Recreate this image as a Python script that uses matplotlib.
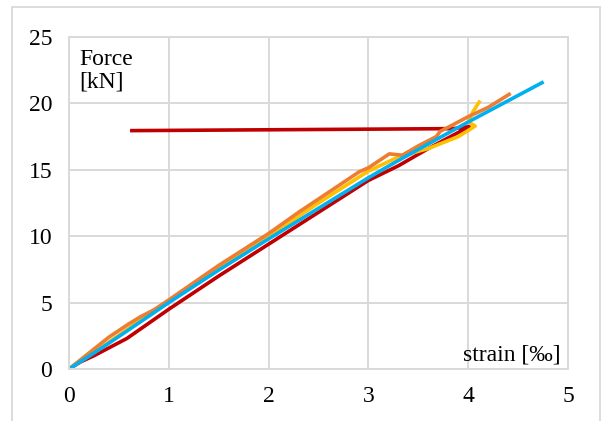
import matplotlib
matplotlib.use("Agg")
import matplotlib.pyplot as plt
from matplotlib.patches import Rectangle

# strain [permille] / force [kN] for the four specimens
cyan_x = [0, 0.25, 0.5, 1.0, 1.5, 2.0, 2.5, 3.0, 3.3, 3.71, 4.0, 4.4, 4.74]
cyan_y = [0, 1.2, 2.45, 5.0, 7.45, 9.8, 12.1, 14.4, 15.7, 17.4, 18.6, 20.2, 21.56]

orange_x = [0, 0.2, 0.4, 0.6, 0.72, 0.85, 1.0, 1.5, 2.0, 2.31, 2.6, 2.91, 3.0, 3.21, 3.34,
            3.5, 3.68, 3.72, 3.85, 4.0, 4.2, 4.41]
orange_y = [0, 1.2, 2.4, 3.4, 3.95, 4.45, 5.2, 7.8, 10.2, 11.85, 13.3, 14.86, 15.15, 16.2, 16.1,
            16.8, 17.5, 17.9, 18.4, 19.0, 19.7, 20.68]

yellow_x = [0, 0.3, 0.7, 1.0, 1.5, 2.0, 2.5, 3.0, 3.31, 3.6, 3.9, 4.02, 4.07, 4.0, 4.05, 4.11]
yellow_y = [0, 1.5, 3.6, 5.1, 7.6, 10.0, 12.5, 14.9, 16.0, 16.6, 17.5, 18.05, 18.3, 18.6, 19.4, 20.1]

red_x = [0, 0.12, 0.25, 0.58, 1.0, 1.5, 2.0, 2.5, 3.0, 3.3, 3.6, 4.01, 3.85, 0.63]
red_y = [0, 0.55, 1.0, 2.3, 4.5, 7.0, 9.4, 11.8, 14.2, 15.3, 16.6, 18.25, 18.1, 17.95]

x_ticks = [0, 1, 2, 3, 4, 5]
y_ticks = [0, 5, 10, 15, 20, 25]

grid_col = '#D9D9D9'
serif = 'Liberation Serif'

fig = plt.figure(figsize=(6.05, 4.21), dpi=100)
fig.patches.append(Rectangle((12 / 605, -0.05), 588 / 605, (421 - 7) / 421 + 0.05,
                             transform=fig.transFigure, fill=False,
                             edgecolor=grid_col, linewidth=1.3))

ax = fig.add_axes([69 / 605, 52 / 421, 499 / 605, 332 / 421])

ax.plot(red_x, red_y, color='#C00000', linewidth=2.6, solid_joinstyle='round')
ax.plot(yellow_x, yellow_y, color='#FFC000', linewidth=2.6, solid_joinstyle='round')
ax.plot(orange_x, orange_y, color='#ED7D31', linewidth=2.6, solid_joinstyle='round')
ax.plot(cyan_x, cyan_y, color='#00B0F0', linewidth=2.6, solid_joinstyle='round')

ax.set_xlim(0, 5)
ax.set_ylim(0, 25)
ax.set_xticks(x_ticks)
ax.set_yticks(y_ticks)
ax.grid(True, color=grid_col, linewidth=1.4)
ax.set_axisbelow(True)
for s in ax.spines.values():
    s.set_color(grid_col)
    s.set_linewidth(1.4)
ax.tick_params(axis='x', length=0, pad=12, labelsize=17)
ax.tick_params(axis='y', length=0, pad=12, labelsize=17)
for lab in ax.get_xticklabels() + ax.get_yticklabels():
    lab.set_fontfamily(serif)

ax.text(0.02, 0.965, 'Force\n[kN]', transform=ax.transAxes, ha='left', va='top',
        fontsize=17, family=serif, linespacing=1.1)
ax.text(0.985, 0.012, 'strain [‰]', transform=ax.transAxes, ha='right', va='bottom',
        fontsize=17, family=serif)

fig.savefig('out.png', dpi=100)
